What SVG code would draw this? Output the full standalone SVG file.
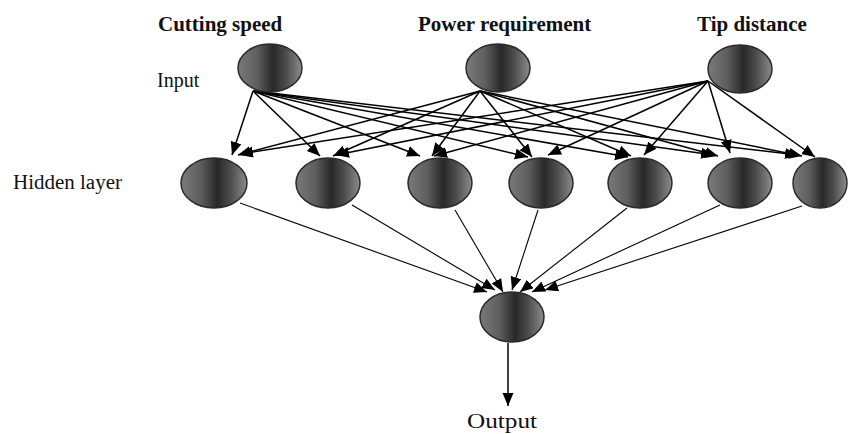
<svg xmlns="http://www.w3.org/2000/svg" width="848" height="434" viewBox="0 0 848 434">
<style>
.title{font-family:"Liberation Serif","Times New Roman",serif;font-weight:bold;font-size:21px;fill:#111}
.lbl{font-family:"Liberation Serif","Times New Roman",serif;font-size:20px;fill:#111}
.node{fill:url(#g);stroke:#2a2a2a;stroke-width:1.5}
.c1{stroke:#000;stroke-width:1.5;fill:none;marker-end:url(#ah)}
.c2{stroke:#000;stroke-width:1.1;fill:none;marker-end:url(#ah)}
</style>
<defs>
<linearGradient id="g" x1="0" y1="0" x2="1" y2="0">
<stop offset="0" stop-color="#7a7a7a"/>
<stop offset="0.3" stop-color="#5e5e5e"/>
<stop offset="0.55" stop-color="#282828"/>
<stop offset="0.75" stop-color="#4c4c4c"/>
<stop offset="1" stop-color="#8c8c8c"/>
</linearGradient>
<marker id="ah" markerUnits="userSpaceOnUse" markerWidth="15" markerHeight="12" refX="13" refY="5.5" orient="auto">
<path d="M0,0 L13,5.5 L0,11 Z" fill="#000"/>
</marker>
</defs>
<rect width="848" height="434" fill="#fff"/>
<g id="labels">
<text class="title" x="158" y="31">Cutting speed</text>
<text class="title" x="418" y="31">Power requirement</text>
<text class="title" x="697" y="31">Tip distance</text>
<text class="lbl" x="157" y="87">Input</text>
<text class="lbl" x="13" y="189" font-size="21" textLength="109" lengthAdjust="spacingAndGlyphs">Hidden layer</text>
<text class="lbl" x="467" y="428" font-size="22" textLength="70" lengthAdjust="spacingAndGlyphs">Output</text>
</g>
<g id="connectors">
<line class="c1" x1="253" y1="91" x2="232" y2="155"/>
<line class="c1" x1="253" y1="91" x2="320" y2="156"/>
<line class="c1" x1="253" y1="91" x2="420" y2="156"/>
<line class="c1" x1="253" y1="91" x2="528" y2="157"/>
<line class="c1" x1="253" y1="91" x2="628" y2="157"/>
<line class="c1" x1="253" y1="91" x2="714" y2="155"/>
<line class="c1" x1="253" y1="91" x2="798" y2="155"/>
<line class="c1" x1="480" y1="91" x2="238" y2="155"/>
<line class="c1" x1="480" y1="91" x2="333" y2="156"/>
<line class="c1" x1="480" y1="91" x2="432" y2="156"/>
<line class="c1" x1="480" y1="91" x2="532" y2="157"/>
<line class="c1" x1="480" y1="91" x2="631" y2="156"/>
<line class="c1" x1="480" y1="91" x2="718" y2="156"/>
<line class="c1" x1="480" y1="91" x2="802" y2="156"/>
<line class="c1" x1="708" y1="81" x2="240" y2="154"/>
<line class="c1" x1="708" y1="81" x2="336" y2="155"/>
<line class="c1" x1="708" y1="81" x2="434" y2="156"/>
<line class="c1" x1="708" y1="81" x2="548" y2="155"/>
<line class="c1" x1="708" y1="81" x2="644" y2="155"/>
<line class="c1" x1="708" y1="81" x2="730" y2="153"/>
<line class="c1" x1="708" y1="81" x2="815" y2="157"/>
<line class="c2" x1="240" y1="203" x2="487" y2="292"/>
<line class="c2" x1="352" y1="205" x2="495" y2="290"/>
<line class="c2" x1="455" y1="210" x2="503" y2="292"/>
<line class="c2" x1="538" y1="210" x2="512" y2="290"/>
<line class="c2" x1="627" y1="208" x2="520" y2="292"/>
<line class="c2" x1="720" y1="205" x2="532" y2="292"/>
<line class="c2" x1="802" y1="206" x2="545" y2="290"/>
<line class="c1" x1="508" y1="343" x2="508" y2="406"/>
</g>
<g id="in1"><ellipse class="node" cx="270" cy="68" rx="32" ry="24"/></g>
<g id="in2"><ellipse class="node" cx="498" cy="68" rx="32" ry="24"/></g>
<g id="in3"><ellipse class="node" cx="740" cy="69" rx="32" ry="24"/></g>
<g id="h1"><ellipse class="node" cx="214" cy="183" rx="33" ry="25"/></g>
<g id="h2"><ellipse class="node" cx="328" cy="183" rx="32" ry="25"/></g>
<g id="h3"><ellipse class="node" cx="440" cy="183" rx="32" ry="25"/></g>
<g id="h4"><ellipse class="node" cx="541" cy="183" rx="32" ry="25"/></g>
<g id="h5"><ellipse class="node" cx="640" cy="183" rx="32" ry="25"/></g>
<g id="h6"><ellipse class="node" cx="740" cy="183" rx="32" ry="25"/></g>
<g id="h7"><ellipse class="node" cx="820" cy="183" rx="27" ry="25"/></g>
<g id="out"><ellipse class="node" cx="512" cy="317" rx="32" ry="25"/></g>
</svg>
